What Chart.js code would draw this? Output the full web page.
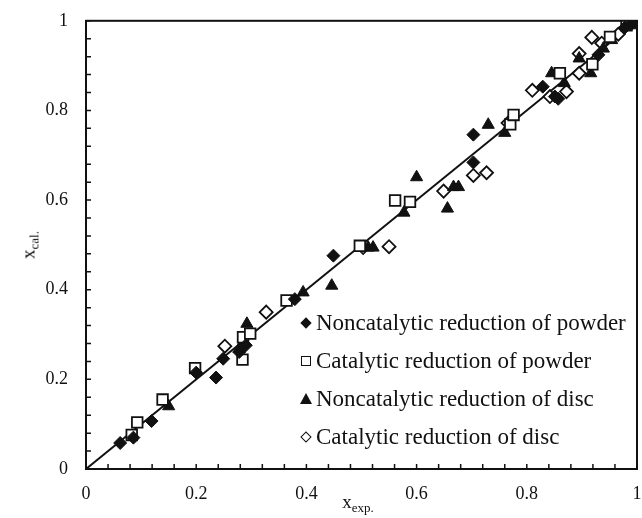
<!DOCTYPE html>
<html>
<head>
<meta charset="utf-8">
<script src="https://cdn.jsdelivr.net/npm/chart.js@4.4.1/dist/chart.umd.min.js"></script>
<style>
  html, body { margin: 0; padding: 0; background: #fff; }
  #wrap { position: relative; width: 642px; height: 518px; font-family: "Liberation Serif", "Times New Roman", serif; color: #111; }
  #chart { position: absolute; left: 0; top: 0; }
  .title { position: absolute; font-size: 19px; white-space: nowrap; }
  .title sub { font-size: 13px; vertical-align: -4px; }
  #ytitle { left: 30px; top: 245px; transform: translate(-50%, -50%) rotate(-90deg); }
  #xtitle { left: 358px; top: 503px; transform: translate(-50%, -50%); }
  #legend { position: absolute; left: 298px; top: 310px; font-size: 23px; }
  .row { position: relative; height: 38px; line-height: 26px; padding-left: 18px; white-space: nowrap; }
  .mk { position: absolute; left: 3px; top: 9px; box-sizing: border-box; }
  .dia { width: 8px; height: 8px; background: #111; transform: rotate(45deg); left: 4px; top: 9px; }
  .odia { width: 8px; height: 8px; border: 1.5px solid #111; background: #fff; transform: rotate(45deg); left: 4px; top: 9px; }
  .sq { width: 10px; height: 10px; border: 1.5px solid #111; background: #fff; left: 3px; top: 8px; }
  .tri { width: 0; height: 0; border-left: 6px solid transparent; border-right: 6px solid transparent; border-bottom: 11px solid #111; left: 2px; top: 7px; }
</style>
</head>
<body>
<div id="wrap">
  <canvas id="chart" width="642" height="518"></canvas>
  <div class="title" id="ytitle">x<sub>cal.</sub></div>
  <div class="title" id="xtitle">x<sub>exp.</sub></div>
  <div id="legend">
    <div class="row"><span class="mk dia"></span>Noncatalytic reduction of powder</div>
    <div class="row"><span class="mk sq"></span>Catalytic reduction of powder</div>
    <div class="row"><span class="mk tri"></span>Noncatalytic reduction of disc</div>
    <div class="row"><span class="mk odia"></span>Catalytic reduction of disc</div>
  </div>
</div>
<script>
// values
const majorTicks = [0, 0.2, 0.4, 0.6, 0.8, 1];
const tickLabels = ['0', '0.2', '0.4', '0.6', '0.8', '1'];

const powderNoncatX = [0.062, 0.086, 0.119, 0.200, 0.236, 0.249, 0.278, 0.290, 0.379, 0.449, 0.703, 0.703, 0.829, 0.851, 0.857, 0.930, 0.978, 0.990, 1.000];
const powderNoncatY = [0.058, 0.070, 0.107, 0.215, 0.204, 0.246, 0.261, 0.276, 0.379, 0.476, 0.684, 0.746, 0.853, 0.831, 0.826, 0.924, 0.985, 0.993, 1.000];

const powderCatX = [0.083, 0.093, 0.139, 0.198, 0.284, 0.285, 0.298, 0.364, 0.497, 0.561, 0.588, 0.770, 0.776, 0.860, 0.919, 0.951, 0.981];
const powderCatY = [0.076, 0.104, 0.155, 0.225, 0.244, 0.294, 0.302, 0.376, 0.498, 0.599, 0.596, 0.769, 0.790, 0.883, 0.903, 0.964, 0.990];

const discNoncatX = [0.150, 0.278, 0.285, 0.292, 0.394, 0.446, 0.512, 0.521, 0.577, 0.600, 0.656, 0.667, 0.676, 0.730, 0.760, 0.845, 0.868, 0.895, 0.916, 0.939, 0.954, 0.990];
const discNoncatY = [0.140, 0.268, 0.282, 0.324, 0.394, 0.409, 0.494, 0.494, 0.572, 0.651, 0.581, 0.629, 0.629, 0.768, 0.750, 0.883, 0.861, 0.916, 0.883, 0.938, 0.957, 0.990];

const discCatX = [0.252, 0.327, 0.503, 0.550, 0.649, 0.703, 0.727, 0.766, 0.810, 0.842, 0.872, 0.895, 0.895, 0.918, 0.936, 0.966];
const discCatY = [0.274, 0.350, 0.494, 0.496, 0.620, 0.655, 0.661, 0.772, 0.845, 0.831, 0.842, 0.883, 0.927, 0.963, 0.950, 0.970];

const parityX = [0, 1];
const parityY = [0, 1];

const INK = '#111';

function toPoints(xs, ys) {
  return xs.map((x, i) => ({ x: x, y: ys[i] }));
}

function tickLabel(value) {
  const i = majorTicks.findIndex(t => Math.abs(t - value) < 1e-6);
  return i >= 0 ? tickLabels[i] : '';
}

// frame + inward ticks
const framePlugin = {
  id: 'frame',
  afterDraw(chart) {
    const { ctx, chartArea: a, scales } = chart;
    ctx.save();
    ctx.strokeStyle = INK;
    ctx.lineWidth = 2;
    ctx.strokeRect(a.left, a.top, a.right - a.left, a.bottom - a.top);
    ctx.lineWidth = 1.5;
    ctx.beginPath();
    scales.x.ticks.forEach(t => {
      const px = scales.x.getPixelForValue(t.value);
      ctx.moveTo(px, a.bottom);
      ctx.lineTo(px, a.bottom - 5);
    });
    scales.y.ticks.forEach(t => {
      const py = scales.y.getPixelForValue(t.value);
      ctx.moveTo(a.left, py);
      ctx.lineTo(a.left + 5, py);
    });
    ctx.stroke();
    ctx.restore();
  }
};

const axisFont = { family: '"Liberation Serif", "Times New Roman", serif', size: 18 };

new Chart(document.getElementById('chart'), {
  type: 'scatter',
  data: {
    datasets: [
      {
        label: 'Noncatalytic reduction of powder',
        data: toPoints(powderNoncatX, powderNoncatY),
        pointStyle: 'rectRot', pointRadius: 6.5,
        backgroundColor: INK, borderColor: INK, borderWidth: 1
      },
      {
        label: 'Catalytic reduction of powder',
        data: toPoints(powderCatX, powderCatY),
        pointStyle: 'rect', pointRadius: 7.5,
        backgroundColor: '#fff', borderColor: INK, borderWidth: 1.8
      },
      {
        label: 'Noncatalytic reduction of disc',
        data: toPoints(discNoncatX, discNoncatY),
        pointStyle: 'triangle', pointRadius: 7,
        backgroundColor: INK, borderColor: INK, borderWidth: 1
      },
      {
        label: 'Catalytic reduction of disc',
        data: toPoints(discCatX, discCatY),
        pointStyle: 'rectRot', pointRadius: 6.5,
        backgroundColor: '#fff', borderColor: INK, borderWidth: 1.8
      },
      {
        type: 'line',
        label: 'y = x',
        data: toPoints(parityX, parityY),
        borderColor: INK, borderWidth: 2, pointRadius: 0, fill: false
      }
    ]
  },
  options: {
    responsive: false,
    animation: false,
    layout: { autoPadding: false, padding: { top: 19, right: 5, left: 0, bottom: 0 } },
    plugins: { legend: { display: false }, tooltip: { enabled: false } },
    scales: {
      x: {
        type: 'linear', min: 0, max: 1,
        grid: { display: false },
        border: { display: false },
        afterFit: s => { s.height = 49; s.paddingRight = 0; },
        ticks: {
          stepSize: 0.04, autoSkip: false, maxRotation: 0, padding: 6,
          color: INK, font: axisFont, callback: v => tickLabel(v)
        }
      },
      y: {
        type: 'linear', min: 0, max: 1,
        grid: { display: false },
        border: { display: false },
        afterFit: s => { s.width = 86; },
        ticks: {
          stepSize: 0.04, autoSkip: false, padding: 10,
          color: INK, font: axisFont, callback: v => tickLabel(v)
        }
      }
    }
  },
  plugins: [framePlugin]
});
</script>
</body>
</html>
